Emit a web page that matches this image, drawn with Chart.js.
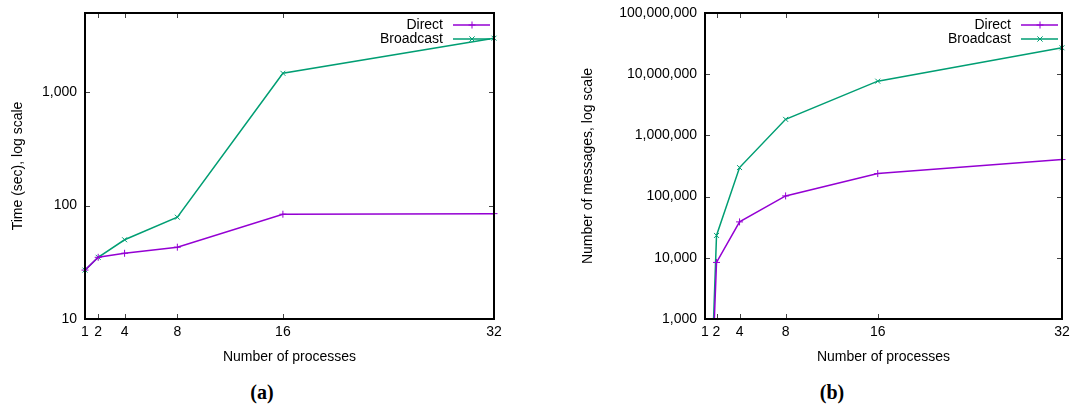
<!DOCTYPE html>
<html>
<head>
<meta charset="utf-8">
<script src="https://cdn.jsdelivr.net/npm/chart.js@4/dist/chart.umd.min.js"></script>
<style>
  body { margin: 0; background: #fff; width: 1091px; height: 410px; position: relative; overflow: hidden; }
  .panel { position: absolute; top: 0; height: 375px; }
  #wrapA { left: 0; width: 545px; }
  #wrapB { left: 545px; width: 546px; }
  .cap { position: absolute; top: 381px; width: 80px; text-align: center; font: bold 20px "Liberation Serif", serif; color: #000; }
</style>
</head>
<body>
<div class="panel" id="wrapA"><canvas id="chartA"></canvas></div>
<div class="panel" id="wrapB"><canvas id="chartB"></canvas></div>
<div class="cap" style="left:222px">(a)</div>
<div class="cap" style="left:792px">(b)</div>
<script>
// x values (number of processes)
const processes = [1, 2, 4, 8, 16, 32];
const xTicks = [1, 2, 4, 8, 16, 32];

// (a) time in seconds
const timeDirect = [27, 35, 38, 43, 84, 85];
const timeBroadcast = [27, 35, 50, 79, 1470, 3000];
const timeTicks = [10, 100, 1000];

// (b) number of messages (1 process is far below the axis)
const msgDirect = [0.1, 8400, 38600, 102600, 238000, 403000];
const msgBroadcast = [0.1, 23200, 298000, 1830000, 7700000, 27000000];
const msgTicks = [1000, 10000, 100000, 1000000, 10000000, 100000000];

const seriesNames = ["Direct", "Broadcast"];
const seriesColors = ["#9400d3", "#009e73"];
const seriesMarks = ["cross", "crossRot"];

Chart.defaults.font.family = "'Liberation Sans', Arial, sans-serif";
Chart.defaults.font.size = 14;
Chart.defaults.color = "#000";

function toPoints(ys) {
    return processes.map((p, i) => ({ x: p, y: ys[i] }));
}

function makeDataset(i, ys, clip) {
    return {
        label: seriesNames[i],
        data: toPoints(ys),
        borderColor: seriesColors[i],
        backgroundColor: seriesColors[i],
        borderWidth: 1.5,
        pointStyle: seriesMarks[i],
        pointRadius: 3.5,
        pointBorderWidth: 1,
        tension: 0,
        clip: clip
    };
}

function drawMark(ctx, style, x, y, r) {
    ctx.beginPath();
    if (style === "cross") {
        ctx.moveTo(x - r, y); ctx.lineTo(x + r, y);
        ctx.moveTo(x, y - r); ctx.lineTo(x, y + r);
    } else {
        const d = r * 0.75;
        ctx.moveTo(x - d, y - d); ctx.lineTo(x + d, y + d);
        ctx.moveTo(x - d, y + d); ctx.lineTo(x + d, y - d);
    }
    ctx.stroke();
}

// gnuplot-like frame: border, inward mirrored ticks, key at top right
const framePlugin = {
    id: "frame",
    afterDraw(chart) {
        const { ctx, chartArea: a, scales } = chart;
        const x = scales.x, y = scales.y;
        ctx.save();

        ctx.strokeStyle = "#444";
        ctx.lineWidth = 1;
        ctx.beginPath();
        x.ticks.forEach(t => {
            const px = Math.round(x.getPixelForValue(t.value)) + 0.5;
            ctx.moveTo(px, a.bottom); ctx.lineTo(px, a.bottom - 5);
            ctx.moveTo(px, a.top); ctx.lineTo(px, a.top + 5);
        });
        y.ticks.forEach(t => {
            const py = Math.round(y.getPixelForValue(t.value)) + 0.5;
            ctx.moveTo(a.left, py); ctx.lineTo(a.left + 5, py);
            ctx.moveTo(a.right, py); ctx.lineTo(a.right - 5, py);
        });
        ctx.stroke();

        ctx.strokeStyle = "#000";
        ctx.lineWidth = 2;
        ctx.strokeRect(a.left, a.top, a.right - a.left, a.bottom - a.top);

        ctx.font = "14px 'Liberation Sans', Arial, sans-serif";
        ctx.textAlign = "right";
        ctx.textBaseline = "middle";
        chart.data.datasets.forEach((ds, i) => {
            const ly = a.top + 12 + i * 14;
            ctx.fillStyle = "#000";
            ctx.fillText(ds.label, a.right - 51, ly);
            ctx.strokeStyle = ds.borderColor;
            ctx.lineWidth = 1.5;
            ctx.beginPath();
            ctx.moveTo(a.right - 41, ly); ctx.lineTo(a.right - 4, ly);
            ctx.stroke();
            ctx.lineWidth = 1;
            drawMark(ctx, ds.pointStyle, a.right - 22, ly, 3.5);
        });
        ctx.restore();
    }
};

function makeChart(id, dsA, dsB, yMin, yMax, yTicks, yTitle, yWidth, yTitlePad, padRight) {
    return new Chart(document.getElementById(id), {
        type: "line",
        data: { datasets: [dsA, dsB] },
        options: {
            responsive: true,
            maintainAspectRatio: false,
            animation: false,
            layout: { padding: { top: 13, right: padRight, left: 0, bottom: 0 } },
            plugins: {
                legend: { display: false },
                tooltip: { enabled: false }
            },
            scales: {
                x: {
                    type: "linear",
                    min: 1,
                    max: 32,
                    afterBuildTicks: s => { s.ticks = xTicks.map(v => ({ value: v })); },
                    afterFit: s => { s.height = 56; s.paddingLeft = 0; s.paddingRight = 0; },
                    grid: { display: false, drawTicks: false },
                    border: { display: false },
                    ticks: { padding: 5, maxRotation: 0, autoSkip: false },
                    title: { display: true, text: "Number of processes", padding: { top: 0, bottom: 9 } }
                },
                y: {
                    type: "logarithmic",
                    min: yMin,
                    max: yMax,
                    afterBuildTicks: s => { s.ticks = yTicks.map(v => ({ value: v })); },
                    afterFit: s => { s.width = yWidth; s.paddingTop = 0; s.paddingBottom = 0; },
                    grid: { display: false, drawTicks: false },
                    border: { display: false },
                    ticks: {
                        padding: 8,
                        autoSkip: false,
                        callback: v => Number(v).toLocaleString("en-US")
                    },
                    title: { display: true, text: yTitle, padding: { top: yTitlePad, bottom: 0 } }
                }
            }
        },
        plugins: [framePlugin]
    });
}

makeChart("chartA",
    makeDataset(0, timeDirect, { left: 6, right: 6, top: 6, bottom: 6 }),
    makeDataset(1, timeBroadcast, { left: 6, right: 6, top: 6, bottom: 6 }),
    10, 5000, timeTicks, "Time (sec), log scale", 85, 10, 51);

makeChart("chartB",
    makeDataset(0, msgDirect, { left: 0, right: 6, top: 6, bottom: 0 }),
    makeDataset(1, msgBroadcast, { left: 0, right: 6, top: 6, bottom: 0 }),
    1000, 100000000, msgTicks, "Number of messages, log scale", 160, 35, 29);
</script>
</body>
</html>
